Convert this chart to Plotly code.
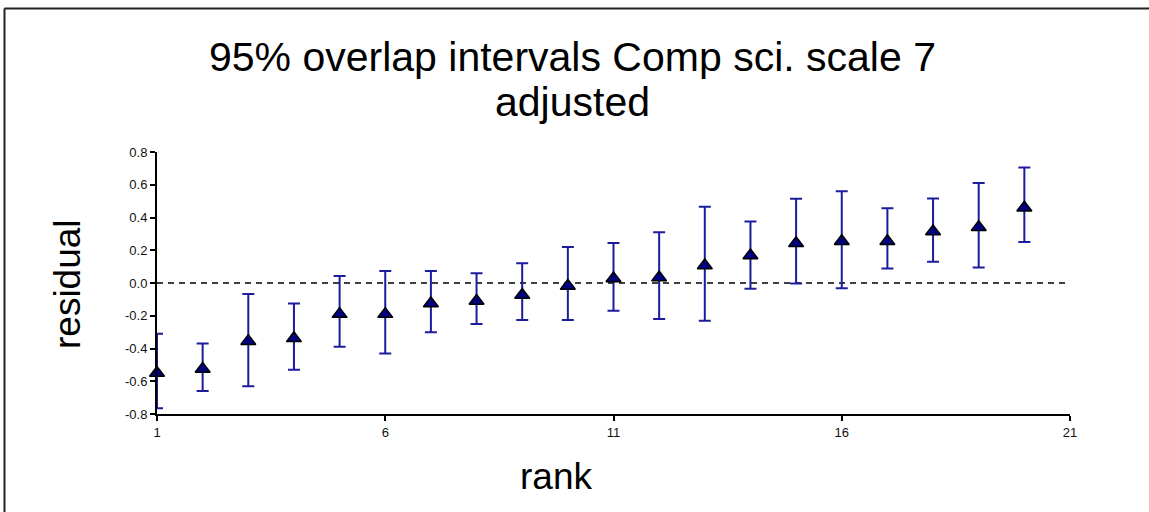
import plotly.graph_objects as go

rank = list(range(1, 21))
residual = [-0.55, -0.525, -0.355, -0.338, -0.19, -0.19, -0.125, -0.11, -0.073, -0.018,
            0.027, 0.033, 0.107, 0.168, 0.243, 0.255, 0.255, 0.315, 0.34, 0.46]
upper = [-0.31, -0.37, -0.067, -0.125, 0.043, 0.073, 0.073, 0.06, 0.12, 0.22,
         0.245, 0.31, 0.465, 0.375, 0.514, 0.56, 0.457, 0.516, 0.61, 0.705]
lower = [-0.765, -0.66, -0.63, -0.53, -0.39, -0.43, -0.30, -0.25, -0.226, -0.226,
         -0.17, -0.22, -0.23, -0.035, -0.003, -0.032, 0.088, 0.13, 0.095, 0.25]

y_tickvals = [0.8, 0.6, 0.4, 0.2, 0.0, -0.2, -0.4, -0.6, -0.8]
y_ticktext = ["0.8", "0.6", "0.4", "0.2", "0.0", "-0.2", "-0.4", "-0.6", "-0.8"]
x_tickvals = [1, 6, 11, 16, 21]
x_ticktext = ["1", "6", "11", "16", "21"]

title_line1 = "95% overlap intervals Comp sci. scale 7"
title_line2 = "adjusted"

err_plus = [u - r for u, r in zip(upper, residual)]
err_minus = [r - l for r, l in zip(residual, lower)]

FONT = "Liberation Sans, Arial, sans-serif"
W, H = 1149, 512
ML, MR, MT, MB = 157, 79, 152, 98
PW = W - ML - MR
PH = H - MT - MB

def px(xp):
    return (xp - ML) / PW

def py(yp):
    return (H - MB - yp) / PH

fig = go.Figure()
fig.add_trace(go.Scatter(
    x=rank, y=residual, mode="markers",
    marker=dict(symbol="triangle-up", size=13, color="#000080",
                line=dict(color="black", width=1.5)),
    error_y=dict(type="data", symmetric=False, array=err_plus, arrayminus=err_minus,
                 color="#1c1c9c", thickness=2, width=6),
    cliponaxis=False, showlegend=False,
))

fig.add_shape(type="line", xref="x", yref="y", x0=1, x1=21, y0=0, y1=0,
              line=dict(color="black", width=1.5, dash="6px,5px"), layer="below")

# outer frame (top and left edges)
fig.add_shape(type="line", xref="paper", yref="paper",
              x0=px(4.5), x1=px(1160), y0=py(8.5), y1=py(8.5),
              line=dict(color="#222222", width=2))
fig.add_shape(type="line", xref="paper", yref="paper",
              x0=px(4.5), x1=px(4.5), y0=py(8.5), y1=py(530),
              line=dict(color="#222222", width=2))

fig.add_annotation(text=title_line1, xref="paper", yref="paper", x=px(572.5), y=py(57),
                   xanchor="center", yanchor="middle", showarrow=False,
                   font=dict(family=FONT, size=41, color="black"))
fig.add_annotation(text=title_line2, xref="paper", yref="paper", x=px(572), y=py(102),
                   xanchor="center", yanchor="middle", showarrow=False,
                   font=dict(family=FONT, size=41, color="black"))
fig.add_annotation(text="residual", xref="paper", yref="paper", x=px(67), y=py(284),
                   xanchor="center", yanchor="middle", textangle=-90, showarrow=False,
                   font=dict(family=FONT, size=37, color="black"))
fig.add_annotation(text="rank", xref="paper", yref="paper", x=px(556), y=py(476),
                   xanchor="center", yanchor="middle", showarrow=False,
                   font=dict(family=FONT, size=37, color="black"))

fig.update_layout(
    width=W, height=H,
    margin=dict(l=ML, r=MR, t=MT, b=MB, pad=0),
    paper_bgcolor="white", plot_bgcolor="white",
    font=dict(family=FONT, color="black"),
    xaxis=dict(range=[1, 21], tickvals=x_tickvals, ticktext=x_ticktext,
               showgrid=False, zeroline=False, showline=True, linecolor="black",
               linewidth=2, ticks="outside", ticklen=5, tickwidth=1.5, tickcolor="black",
               tickfont=dict(family=FONT, size=13, color="#111111")),
    yaxis=dict(range=[-0.8, 0.8], tickvals=y_tickvals, ticktext=y_ticktext,
               showgrid=False, zeroline=False, showline=True, linecolor="black",
               linewidth=2, ticks="outside", ticklen=5, tickwidth=1.5, tickcolor="black",
               tickfont=dict(family=FONT, size=13, color="#111111")),
)

fig.write_html("out.html")
